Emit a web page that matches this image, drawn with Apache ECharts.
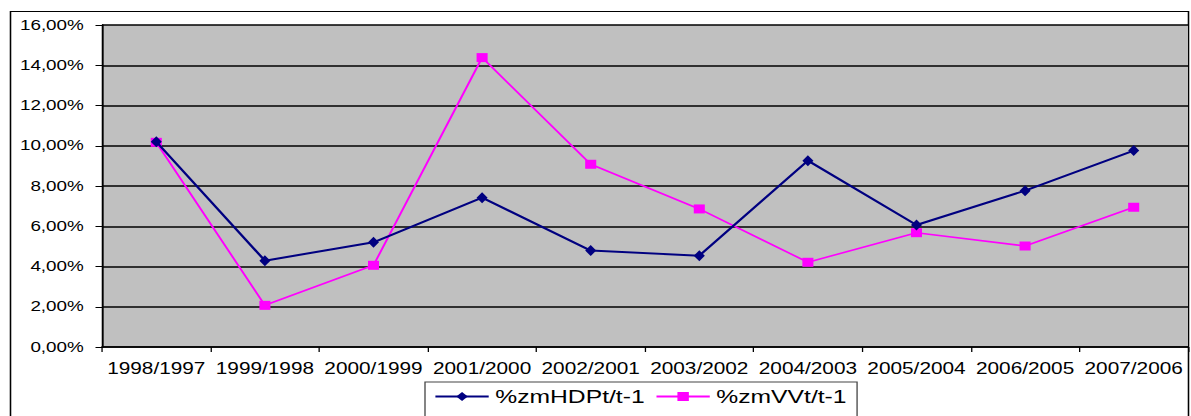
<!DOCTYPE html>
<html>
<head>
<meta charset="utf-8">
<script src="https://cdn.jsdelivr.net/npm/echarts@6/dist/echarts.min.js"></script>
<style>
html,body{margin:0;padding:0;background:#fff;overflow:hidden;width:1191px;height:416px;}
#c{position:absolute;left:0;top:0;height:416px;transform-origin:0 0;}
</style>
</head>
<body>
<div id="c"></div>
<script>
// Data
const categories = ['1998/1997','1999/1998','2000/1999','2001/2000','2002/2001','2003/2002','2004/2003','2005/2004','2006/2005','2007/2006'];
const hdp = [10.2, 4.29, 5.2, 7.42, 4.79, 4.54, 9.26, 6.06, 7.77, 9.76];
const vv  = [10.17, 2.07, 4.06, 14.38, 9.08, 6.86, 4.21, 5.68, 5.02, 6.94];
const seriesNames = ['%zmHDPt/t-1', '%zmVVt/t-1'];

// horizontal stretch of the reference picture
const S = 1.3;
const W = 1191 / S;
const el = document.getElementById('c');
el.style.width = W + 'px';
el.style.transform = 'scaleX(' + S + ')';

const chart = echarts.init(el, null, {renderer: 'svg', width: W, height: 416});
const fmt = v => v.toFixed(2).replace('.', ',') + '%';

chart.setOption({
  animation: false,
  backgroundColor: '#fff',
  textStyle: {fontFamily: 'Liberation Sans, Arial, sans-serif'},
  graphic: [{
    type: 'rect', silent: true, z: -1,
    shape: {x: 10.5 / S, y: 11.5, width: 1178 / S, height: 440},
    style: {fill: 'none', stroke: '#000', lineWidth: 1.2}
  }],
  grid: {
    left: 102 / S, right: 3 / S, top: 25, bottom: 69,
    show: true, backgroundColor: '#C0C0C0', borderColor: '#808080', borderWidth: 0
  },
  legend: {
    data: seriesNames,
    left: 425 / S, top: 382,
    padding: [5, 8, 20, 7],
    itemWidth: 41, itemHeight: 11, itemGap: 8,
    borderColor: '#444', borderWidth: 1,
    textStyle: {fontSize: 19, color: '#000', fontFamily: 'Liberation Sans, Arial, sans-serif'}
  },
  xAxis: {
    type: 'category', data: categories, boundaryGap: true,
    axisLine: {lineStyle: {color: '#000', width: 1.5}},
    axisTick: {show: true, alignWithLabel: false, length: 5, lineStyle: {color: '#000', width: 1}},
    axisLabel: {color: '#000', fontSize: 16, margin: 13, interval: 0}
  },
  yAxis: {
    type: 'value', min: 0, max: 16, interval: 2,
    axisLine: {show: true, lineStyle: {color: '#000', width: 1.5}},
    axisTick: {show: true, length: 5, lineStyle: {color: '#000', width: 1}},
    axisLabel: {color: '#000', fontSize: 14.5, margin: 14, formatter: fmt},
    splitLine: {show: true, lineStyle: {color: '#000', width: 1.5}}
  },
  series: [
    {
      name: seriesNames[0], type: 'line', data: hdp,
      symbol: 'diamond', symbolSize: [8.5, 11],
      itemStyle: {color: '#000080'},
      lineStyle: {color: '#000080', width: 2},
      z: 3
    },
    {
      name: seriesNames[1], type: 'line', data: vv,
      symbol: 'rect', symbolSize: [8.5, 9],
      itemStyle: {color: '#FF00FF'},
      lineStyle: {color: '#FF00FF', width: 1.6},
      z: 2
    }
  ]
});
</script>
</body>
</html>
